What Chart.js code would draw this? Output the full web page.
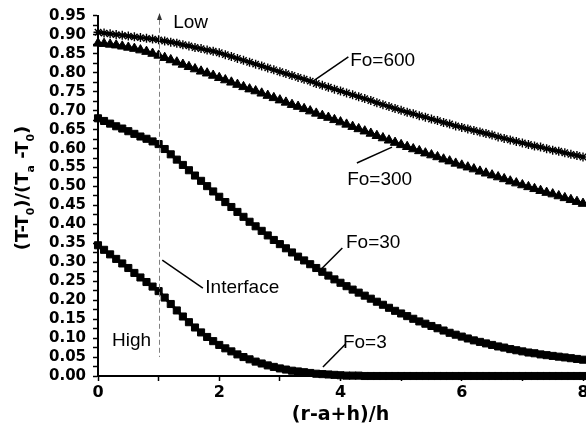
<!DOCTYPE html>
<html>
<head>
<meta charset="utf-8">
<script src="https://cdn.jsdelivr.net/npm/chart.js@4.4.0/dist/chart.umd.min.js"></script>
<style>
  html, body { margin: 0; padding: 0; background: #fff; }
  #wrap { width: 586px; height: 439px; }
</style>
</head>
<body>
<div id="wrap"><canvas id="profileChart" width="586" height="439"></canvas></div>
<script>
// sampling grid along (r-a+h)/h, step 0.1 from 0 to 8
const xs = Array.from({ length: 81 }, (_, i) => i / 10);

// dimensionless temperature (T-T0)/(Ta-T0) for each Fourier number
const fo600 = [
  0.907, 0.905, 0.903, 0.901, 0.899, 0.897, 0.895, 0.893, 0.891, 0.889, 0.887,
  0.884, 0.881, 0.878, 0.874, 0.871, 0.867, 0.864, 0.860, 0.857, 0.853,
  0.848, 0.843, 0.838, 0.833, 0.828, 0.823, 0.818, 0.813, 0.808, 0.803,
  0.798, 0.793, 0.788, 0.783, 0.778, 0.772, 0.767, 0.762, 0.757, 0.752,
  0.747, 0.742, 0.737, 0.732, 0.727, 0.721, 0.716, 0.711, 0.706, 0.701,
  0.696, 0.692, 0.687, 0.683, 0.678, 0.674, 0.669, 0.665, 0.660, 0.656,
  0.652, 0.648, 0.644, 0.640, 0.636, 0.631, 0.627, 0.623, 0.619, 0.615,
  0.611, 0.607, 0.604, 0.600, 0.596, 0.593, 0.589, 0.585, 0.582, 0.578
];
const fo300 = [
  0.878, 0.877, 0.875, 0.873, 0.870, 0.867, 0.864, 0.860, 0.856, 0.851, 0.846,
  0.840, 0.834, 0.828, 0.822, 0.816, 0.810, 0.804, 0.799, 0.793, 0.787,
  0.781, 0.775, 0.769, 0.763, 0.757, 0.752, 0.746, 0.740, 0.734, 0.728,
  0.722, 0.716, 0.711, 0.705, 0.699, 0.693, 0.687, 0.682, 0.676, 0.670,
  0.664, 0.658, 0.652, 0.646, 0.640, 0.634, 0.628, 0.622, 0.616, 0.610,
  0.605, 0.599, 0.594, 0.588, 0.583, 0.578, 0.572, 0.567, 0.561, 0.556,
  0.551, 0.546, 0.540, 0.535, 0.530, 0.525, 0.520, 0.514, 0.509, 0.504,
  0.499, 0.494, 0.489, 0.484, 0.480, 0.475, 0.470, 0.465, 0.460, 0.455
];
const fo30 = [
  0.680, 0.673, 0.666, 0.659, 0.653, 0.646, 0.639, 0.632, 0.626, 0.619, 0.612,
  0.599, 0.585, 0.571, 0.557, 0.543, 0.529, 0.515, 0.501, 0.487, 0.473,
  0.459, 0.446, 0.433, 0.420, 0.407, 0.395, 0.383, 0.371, 0.359, 0.348,
  0.337, 0.326, 0.315, 0.305, 0.295, 0.285, 0.275, 0.265, 0.255, 0.246,
  0.237, 0.228, 0.220, 0.212, 0.204, 0.196, 0.188, 0.180, 0.172, 0.165,
  0.158, 0.151, 0.144, 0.138, 0.132, 0.126, 0.120, 0.114, 0.109, 0.104,
  0.099, 0.094, 0.090, 0.086, 0.082, 0.078, 0.075, 0.071, 0.068, 0.065,
  0.062, 0.060, 0.057, 0.055, 0.053, 0.051, 0.049, 0.047, 0.045, 0.043
];
const fo3 = [
  0.345, 0.333, 0.321, 0.309, 0.297, 0.285, 0.272, 0.260, 0.248, 0.236, 0.224,
  0.207, 0.190, 0.173, 0.157, 0.142, 0.128, 0.115, 0.103, 0.092, 0.082,
  0.073, 0.065, 0.057, 0.050, 0.044, 0.038, 0.033, 0.028, 0.024, 0.020,
  0.017, 0.014, 0.012, 0.010, 0.008, 0.006, 0.005, 0.004, 0.003, 0.002,
  0.001, 0.001, 0.001, 0, 0, 0, 0, 0, 0, 0,
  0, 0, 0, 0, 0, 0, 0, 0, 0, 0,
  0, 0, 0, 0, 0, 0, 0, 0, 0, 0,
  0, 0, 0, 0, 0, 0, 0, 0, 0, 0
];

// axis ticks: labelled majors, unlabelled minors in between
const xTickLabels = ['0', '2', '4', '6', '8'];
const yTickLabels = ['0.00', '0.05', '0.10', '0.15', '0.20', '0.25', '0.30', '0.35', '0.40', '0.45',
                     '0.50', '0.55', '0.60', '0.65', '0.70', '0.75', '0.80', '0.85', '0.90', '0.95'];

// text labels and leader lines, in data units
const curveNotes = [
  { text: 'Fo=600', at: [4.16, 0.818], from: [4.13, 0.842], to: [3.50, 0.773] },
  { text: 'Fo=300', at: [4.11, 0.504], from: [4.27, 0.562], to: [4.85, 0.604] },
  { text: 'Fo=30',  at: [4.09, 0.338], from: [4.03, 0.338], to: [3.63, 0.274] },
  { text: 'Fo=3',   at: [4.04, 0.074], from: [4.08, 0.084], to: [3.71, 0.024] },
  { text: 'Interface', at: [1.77, 0.219], from: [1.06, 0.306], to: [1.73, 0.232] },
  { text: 'Low',  at: [1.24, 0.918] },
  { text: 'High', at: [0.23, 0.079] }
];
const interfaceX = 1;

const toPoints = ys => xs.map((x, i) => ({ x: x, y: ys[i] }));

function series(label, ys, style, radius) {
  return {
    label: label,
    data: toPoints(ys),
    borderColor: '#000',
    backgroundColor: '#000',
    borderWidth: 3,
    pointStyle: style,
    pointRadius: radius,
    pointBorderWidth: style === 'star' ? 1.4 : 1,
    pointBackgroundColor: '#000',
    pointBorderColor: '#000',
    tension: 0,
    clip: false
  };
}

const annotate = {
  id: 'annotate',
  afterDatasetsDraw(chart) {
    const { ctx, scales: { x, y } } = chart;
    const px = v => x.getPixelForValue(v);
    const py = v => y.getPixelForValue(v);
    ctx.save();

    // dashed interface marker with small arrow head
    const ix = Math.round(px(interfaceX)) + 0.5;
    ctx.strokeStyle = '#808080';
    ctx.lineWidth = 1;
    ctx.setLineDash([5, 3]);
    ctx.beginPath();
    ctx.moveTo(ix, py(0.94));
    ctx.lineTo(ix, py(0.05));
    ctx.stroke();
    ctx.setLineDash([]);
    ctx.fillStyle = '#333';
    ctx.beginPath();
    ctx.moveTo(ix, py(0.958));
    ctx.lineTo(ix - 2.5, py(0.958) + 7);
    ctx.lineTo(ix + 2.5, py(0.958) + 7);
    ctx.closePath();
    ctx.fill();

    ctx.strokeStyle = '#000';
    ctx.lineWidth = 1.5;
    ctx.fillStyle = '#000';
    ctx.font = '19px "Liberation Sans", Arial, sans-serif';
    ctx.textBaseline = 'alphabetic';
    ctx.textAlign = 'left';
    curveNotes.forEach(n => {
      if (n.from) {
        ctx.beginPath();
        ctx.moveTo(px(n.from[0]), py(n.from[1]));
        ctx.lineTo(px(n.to[0]), py(n.to[1]));
        ctx.stroke();
      }
      ctx.fillText(n.text, px(n.at[0]), py(n.at[1]));
    });
    ctx.restore();
  },
  afterDraw(chart) {
    const { ctx, chartArea } = chart;
    ctx.save();
    ctx.fillStyle = '#000';
    ctx.textBaseline = 'alphabetic';

    // x axis title
    ctx.font = 'bold 19px "DejaVu Sans", sans-serif';
    ctx.textAlign = 'center';
    ctx.fillText('(r-a+h)/h', (chartArea.left + chartArea.right) / 2, 420);

    // y axis title with subscripts, rotated
    const parts = [
      ['(T-T', false], ['0', true], [')/(T', false], ['a', true], [' -T', false], ['0', true], [')', false]
    ];
    const mainFont = 'bold 18px "DejaVu Sans", sans-serif';
    const subFont = 'bold 11px "DejaVu Sans", sans-serif';
    let total = 0;
    parts.forEach(p => {
      ctx.font = p[1] ? subFont : mainFont;
      total += ctx.measureText(p[0]).width;
    });
    ctx.translate(28, 188);
    ctx.rotate(-Math.PI / 2);
    ctx.textAlign = 'left';
    let cx = -total / 2;
    parts.forEach(p => {
      ctx.font = p[1] ? subFont : mainFont;
      ctx.fillText(p[0], cx, p[1] ? 6 : 0);
      cx += ctx.measureText(p[0]).width;
    });
    ctx.restore();
  }
};

const ctx = document.getElementById('profileChart').getContext('2d');
new Chart(ctx, {
  type: 'line',
  data: {
    datasets: [
      series('Fo=600', fo600, 'star', 4.5),
      series('Fo=300', fo300, 'triangle', 5.5),
      series('Fo=30', fo30, 'rect', 5),
      series('Fo=3', fo3, 'rect', 5)
    ]
  },
  options: {
    responsive: false,
    animation: false,
    events: [],
    layout: { autoPadding: false, padding: { top: 16, right: 3, left: 0, bottom: 0 } },
    plugins: { legend: { display: false }, tooltip: { enabled: false } },
    scales: {
      x: {
        type: 'linear',
        min: 0,
        max: 8,
        afterBuildTicks(scale) {
          const t = [];
          for (let v = 0; v <= 8; v++) t.push({ value: v });
          scale.ticks = t;
        },
        afterFit(scale) {
          scale.height = 63;
          scale.paddingLeft = 0;
          scale.paddingRight = 0;
        },
        ticks: {
          autoSkip: false,
          maxRotation: 0,
          padding: 2,
          color: '#000',
          font: { family: 'DejaVu Sans', weight: 'bold', size: 16 },
          callback: v => (v % 2 === 0 ? xTickLabels[v / 2] : '')
        },
        grid: { drawOnChartArea: false, tickLength: 5, tickColor: '#000', tickWidth: 1.5 },
        border: { color: '#000', width: 2 }
      },
      y: {
        min: 0,
        max: 0.95,
        afterBuildTicks(scale) {
          const t = [];
          for (let i = 0; i <= 38; i++) t.push({ value: i * 0.025 });
          scale.ticks = t;
        },
        afterFit(scale) {
          scale.width = 98;
          scale.paddingTop = 0;
          scale.paddingBottom = 0;
        },
        ticks: {
          autoSkip: false,
          padding: 7,
          color: '#000',
          font: { family: 'DejaVu Sans', weight: 'bold', size: 15 },
          callback: function (v) {
            const k = Math.round(v * 40);
            return k % 2 === 0 ? yTickLabels[k / 2] : '';
          }
        },
        grid: { drawOnChartArea: false, tickLength: 5, tickColor: '#000', tickWidth: 1.5 },
        border: { color: '#000', width: 2 }
      }
    }
  },
  plugins: [annotate]
});
</script>
</body>
</html>
